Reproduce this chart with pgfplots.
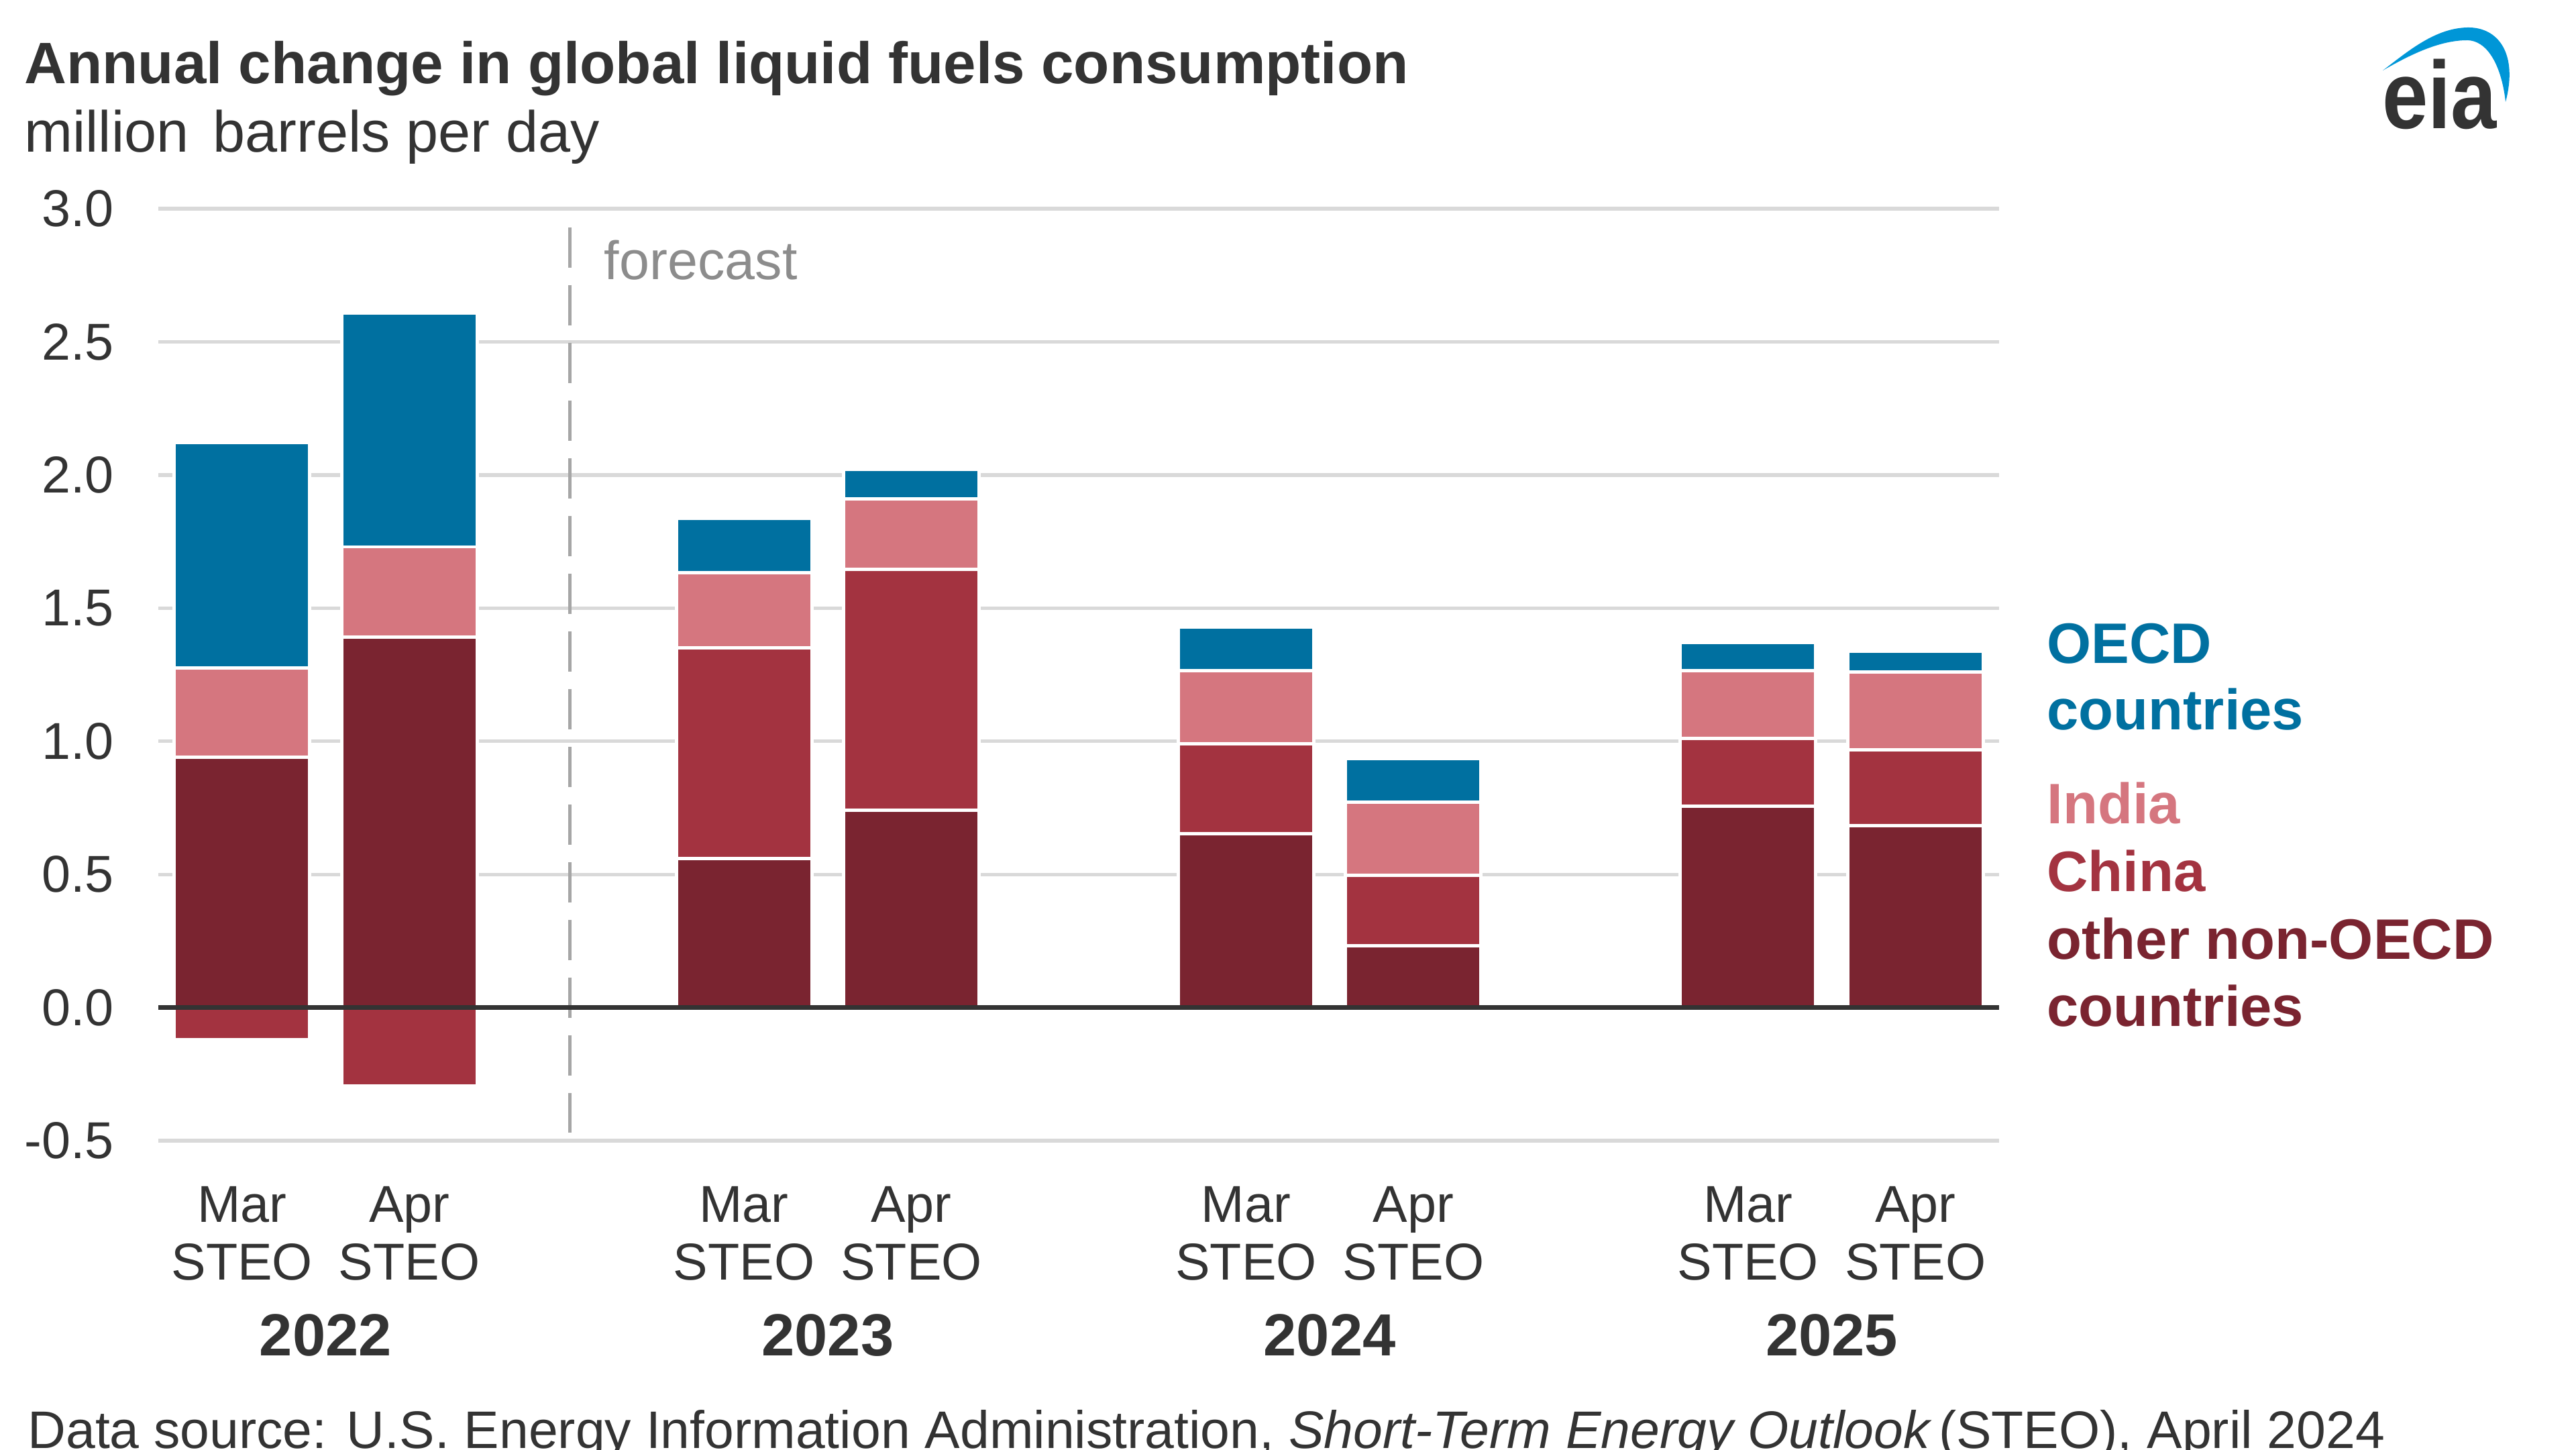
\documentclass[border=0pt]{standalone}
\usepackage{fontspec}
\setmainfont{Liberation Sans}
\usepackage{pgfplots}
\pgfplotsset{compat=1.18}
\definecolor{oecd}{HTML}{0070A0}
\definecolor{india}{HTML}{D5767F}
\definecolor{china}{HTML}{A33340}
\definecolor{othernon}{HTML}{7A2430}
\definecolor{txt}{HTML}{333333}
\definecolor{gridc}{HTML}{D9D9D9}
\definecolor{fcgray}{HTML}{8C8C8C}
\definecolor{dashc}{HTML}{A6A6A6}
\definecolor{eiablue}{HTML}{0096D7}
\begin{document}
\begin{tikzpicture}
\begin{axis}[
  name=main,
  at={(11.8mm,-85mm)}, anchor=south west,
  width=137.2mm, height=69.45mm, scale only axis,
  xmin=-0.5, xmax=10.5, ymin=-0.5, ymax=3.0,
  ybar stacked, bar width=10.1mm,
  axis line style={draw=none}, major tick length=0pt,
  ytick={-0.5,0,0.5,1,1.5,2,2.5,3},
  ymajorgrids, grid style={draw=gridc, line width=0.75pt},
  xtick={0,1,3,4,6,7,9,10},
  xticklabels={{Mar\\STEO},{Apr\\STEO},{Mar\\STEO},{Apr\\STEO},{Mar\\STEO},{Apr\\STEO},{Mar\\STEO},{Apr\\STEO}},
  xticklabel style={align=center, font=\fontsize{11}{12.2}\selectfont, text=txt, inner sep=0pt, yshift=-3.35mm},
  yticklabel style={font=\fontsize{11}{13}\selectfont, text=txt, inner sep=0pt, xshift=-3.25mm},
  /pgf/number format/assume math mode=true,
  yticklabel={\pgfmathprintnumber[fixed,fixed zerofill,precision=1]{\tick}},
  clip=false,
]
% China (negative part, 2022) - negative values form their own stack below zero
\addplot[fill=china, draw=white, line width=0.7pt] coordinates {(0,-0.12) (1,-0.295) (3,0) (4,0) (6,0) (7,0) (9,0) (10,0)};
% other non-OECD countries
\addplot[fill=othernon, draw=white, line width=0.7pt] coordinates {(0,0.94) (1,1.39) (3,0.56) (4,0.74) (6,0.652) (7,0.232) (9,0.757) (10,0.683)};
% China (positive)
\addplot[fill=china, draw=white, line width=0.7pt] coordinates {(0,0) (1,0) (3,0.79) (4,0.905) (6,0.338) (7,0.264) (9,0.254) (10,0.284)};
% India
\addplot[fill=india, draw=white, line width=0.7pt] coordinates {(0,0.335) (1,0.34) (3,0.282) (4,0.265) (6,0.274) (7,0.276) (9,0.254) (10,0.293)};
% OECD
\addplot[fill=oecd, draw=white, line width=0.7pt] coordinates {(0,0.848) (1,0.877) (3,0.204) (4,0.11) (6,0.164) (7,0.163) (9,0.107) (10,0.078)};
\draw[dashc, line width=0.7pt, dash pattern=on 3mm off 1.3mm] (axis cs:1.96,2.93) -- (axis cs:1.96,-0.47);
\node[anchor=base west, inner sep=0pt, text=fcgray, font=\fontsize{11.5}{13}\selectfont] at (axis cs:2.16,2.735) {forecast};
\node[anchor=base, inner sep=0pt, text=txt, font=\fontsize{12.6}{14}\selectfont\bfseries] at ([yshift=-16mm]axis cs:0.5,-0.5) {2022};
\node[anchor=base, inner sep=0pt, text=txt, font=\fontsize{12.6}{14}\selectfont\bfseries] at ([yshift=-16mm]axis cs:3.5,-0.5) {2023};
\node[anchor=base, inner sep=0pt, text=txt, font=\fontsize{12.6}{14}\selectfont\bfseries] at ([yshift=-16mm]axis cs:6.5,-0.5) {2024};
\node[anchor=base, inner sep=0pt, text=txt, font=\fontsize{12.6}{14}\selectfont\bfseries] at ([yshift=-16mm]axis cs:9.5,-0.5) {2025};
\end{axis}
% zero line on top of the bars (y = 0 lies 0.5/3.5 of the axis height above its bottom)
\draw[txt, line width=1.1pt] (11.8mm,-75.079mm) -- (149mm,-75.079mm);
% titles
\node[anchor=base west, inner sep=0pt, text=txt, font=\fontsize{12.4}{14}\selectfont\bfseries] at (1.75mm,-6.25mm) {Annual change in global liquid fuels consumption};
\node[anchor=base west, inner sep=0pt, text=txt, font=\fontsize{12.3}{14}\selectfont] at (1.75mm,-11.33mm) {million\hspace{0.6mm} barrels per day};
% legend labels
\begin{scope}[every node/.style={anchor=base west, inner sep=0pt, font=\fontsize{12.1}{14}\selectfont\bfseries}]
\node[text=oecd] at (152.5mm,-49.45mm) {OECD};
\node[text=oecd] at (152.5mm,-54.4mm) {countries};
\node[text=india] at (152.5mm,-61.4mm) {India};
\node[text=china] at (152.5mm,-66.4mm) {China};
\node[text=othernon] at (152.5mm,-71.45mm) {other non-OECD};
\node[text=othernon] at (152.5mm,-76.45mm) {countries};
\end{scope}
% source
\node[anchor=base west, inner sep=0pt, text=txt, font=\fontsize{11.2}{13}\selectfont] at (2mm,-107.9mm) {Data source: U.S. Energy Information Administration, \textit{Short-Term Energy Outlook}\hspace{0.5mm}(STEO), April 2024};
% logo
\begin{scope}[x=1mm,y=1mm]
\fill[eiablue] (177.6,-5.25) .. controls (179.5,-3.8) and (181.5,-2.1) .. (183.9,-2.05) .. controls (186.2,-2.0) and (187.7,-4.0) .. (186.75,-7.6) .. controls (186.5,-5.3) and (185.6,-3.05) .. (183.9,-3.0) .. controls (181.8,-3.0) and (179.6,-4.1) .. cycle;
\node[anchor=base west, inner sep=0pt, text=txt, xscale=0.86, font=\fontsize{20.3}{22}\selectfont\bfseries] at (177.5,-9.6) {eia};
\end{scope}
\pgfresetboundingbox
\path[use as bounding box] (0,0) rectangle (192mm,-108.05mm);
\end{tikzpicture}
\end{document}
